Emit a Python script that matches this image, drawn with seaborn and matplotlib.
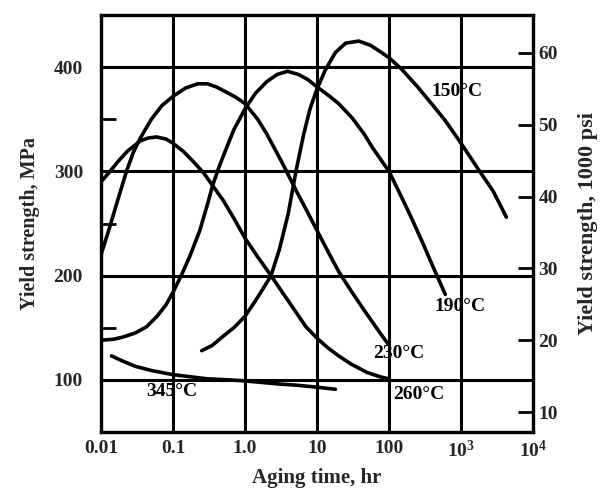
import numpy as np
import pandas as pd
import matplotlib
matplotlib.use("Agg")
import matplotlib.pyplot as plt
import seaborn as sns
from matplotlib.ticker import FixedLocator, NullLocator, FixedFormatter

# ---- data (aging time in hr, yield strength in MPa) ----
t150 = [0.25, 0.35, 0.5, 0.7, 1.0, 1.4, 1.8, 2.3, 3.0, 4.0, 5.1, 6.5, 8, 10, 13, 18, 25, 38, 55, 75, 100,
        150, 250, 400, 600, 1000, 1740, 2800, 4270]
y150 = [128, 133, 142, 150, 161, 176, 188, 200, 225, 260, 300, 335, 360, 379, 397, 414, 423, 425, 421, 415, 409,
        398, 381, 364, 349, 327, 302, 281, 256]

t190 = [0.01, 0.015, 0.02, 0.03, 0.043, 0.06, 0.08, 0.1, 0.13, 0.17, 0.235, 0.3, 0.357, 0.44, 0.55, 0.7, 1.0,
        1.4, 2.0, 2.8, 3.9, 5.5, 7.5, 10, 15, 20, 31, 45, 60, 100, 150, 200, 300, 400, 605]
y190 = [138, 139, 141, 145, 151, 161, 172, 184, 200, 218, 243, 268, 287, 305, 322, 340, 360,
        375, 386, 393, 396, 393, 388, 381, 372, 365, 351, 336, 322, 300, 275, 257, 230, 210, 182]

t230 = [0.01, 0.013, 0.017, 0.0226, 0.028, 0.0346, 0.05, 0.07, 0.1, 0.15, 0.22, 0.3, 0.4, 0.55, 0.75, 1.0,
        1.5, 2.0, 3.3, 5.1, 7.5, 10.6, 15, 20, 30, 45, 70, 98]
y230 = [220, 245, 272, 300, 318, 331, 350, 363, 372, 380, 384, 384, 381, 376, 371, 365,
        350, 336, 308, 282, 260, 240, 220, 204, 185, 167, 148, 134]

t260 = [0.01, 0.013, 0.017, 0.023, 0.0346, 0.045, 0.059, 0.08, 0.1, 0.14, 0.2, 0.27, 0.35, 0.5, 0.7, 1.0,
        1.5, 2.3, 3.3, 5.1, 7, 10, 14, 20, 30, 50, 75, 100]
y260 = [290, 299, 309, 319, 329, 332, 333, 331, 327, 319, 308, 298, 287, 272, 255, 236,
        218, 200, 184, 165, 151, 140, 131, 123, 115, 107, 103, 101]

t345 = [0.014, 0.02, 0.03, 0.05, 0.1, 0.3, 0.6, 1.0, 3.0, 5, 10, 18]
y345 = [123, 118, 113, 109, 105, 101, 100, 99, 96, 95, 93, 91]

curve_names = ["150°C", "190°C", "230°C", "260°C", "345°C"]
label_t = [890, 980, 136, 258, 0.096]
label_y = [377, 170, 125, 86, 89]

x_ticks = [0.01, 0.1, 1.0, 10, 100, 1000, 10000]
x_ticklabels = ["0.01", "0.1", "1.0", "10", "100", r"$\mathbf{10^3}$", r"$\mathbf{10^4}$"]
y_ticks = [100, 200, 300, 400]
y_minor = [150, 250, 350]
ksi_ticks = [10, 20, 30, 40, 50, 60]
MPA_PER_KSI = 6.895

# ---- style ----
sns.set_style("white")
plt.rcParams['font.family'] = ['Liberation Serif', 'DejaVu Serif']
plt.rcParams['font.weight'] = 'bold'
plt.rcParams['mathtext.fontset'] = 'custom'
plt.rcParams['mathtext.rm'] = 'Liberation Serif'
plt.rcParams['mathtext.bf'] = 'Liberation Serif:bold'

fig = plt.figure(figsize=(6.06, 4.93), dpi=100)
ax = fig.add_axes([101 / 606, 1 - 432 / 493, (533 - 101) / 606, (432 - 15) / 493])

frames = []
for name, t, y in zip(curve_names, [t150, t190, t230, t260, t345], [y150, y190, y230, y260, y345]):
    frames.append(pd.DataFrame({"t": t, "ys": y, "curve": name}))
df = pd.concat(frames, ignore_index=True)

sns.lineplot(data=df, x="t", y="ys", hue="curve", palette=["black"] * 5,
             linewidth=2.6, legend=False, ax=ax, sort=False, estimator=None)
for ln in ax.get_lines():
    ln.set_solid_joinstyle("round")
    ln.set_solid_capstyle("round")

ax.set_xscale("log")
ax.set_xlim(0.01, 1e4)
ax.set_ylim(50, 450)

ax.xaxis.set_major_locator(FixedLocator(x_ticks))
ax.xaxis.set_major_formatter(FixedFormatter(x_ticklabels))
ax.xaxis.set_minor_locator(NullLocator())
ax.yaxis.set_major_locator(FixedLocator(y_ticks))
ax.yaxis.set_minor_locator(FixedLocator(y_minor))

ax.grid(True, which="major", color="black", linewidth=2.2)
ax.tick_params(axis="x", which="major", length=0, pad=6, labelsize=14)
ax.tick_params(axis="y", which="major", length=0, pad=13, labelsize=14)
ax.tick_params(axis="y", which="minor", direction="in", length=11, width=2, color="black")
for sp in ax.spines.values():
    sp.set_visible(True)
    sp.set_color("black")
    sp.set_linewidth(2.4)

ax.set_xlabel("Aging time, hr", fontsize=15, fontweight="bold", labelpad=5)
ax.set_ylabel("Yield strength, MPa", fontsize=14.5, fontweight="bold", labelpad=10)

for name, lt, ly in zip(curve_names, label_t, label_y):
    ax.text(lt, ly, name, ha="center", va="center", fontsize=14, fontweight="bold", color="black")

ax2 = ax.twinx()
ax2.set_ylim(50 / MPA_PER_KSI, 450 / MPA_PER_KSI)
ax2.yaxis.set_major_locator(FixedLocator(ksi_ticks))
ax2.tick_params(axis="y", which="major", direction="in", length=11, width=2,
                color="black", labelsize=14, pad=4)
ax2.grid(False)
for sp in ax2.spines.values():
    sp.set_visible(False)
ax2.set_ylabel("Yield strength, 1000 psi", fontsize=16, fontweight="bold", labelpad=14)

fig.savefig("out.png", dpi=100)
